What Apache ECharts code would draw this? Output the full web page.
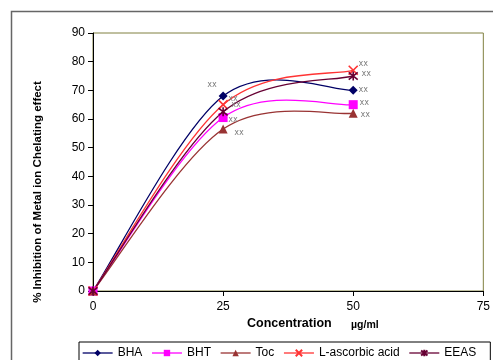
<!DOCTYPE html>
<html><head><meta charset="utf-8">
<script src="https://cdn.jsdelivr.net/npm/echarts@6/dist/echarts.min.js"></script>
<style>html,body{margin:0;padding:0;background:#fff}#c{width:493px;height:360px}</style>
</head><body><div id="c"></div>
<script>
const concentrations = [0, 25, 50];
const seriesNames = ['BHA', 'BHT', 'Toc', 'L-ascorbic acid', 'EEAS'];
const bha = [0, 68, 70];
const bht = [0, 60.5, 65];
const toc = [0, 56.5, 62];
const ascorbic = [0, 65, 77];
const eeas = [0, 62.5, 75];
const xTicks = [0, 25, 50, 75];
const yTicks = [0, 10, 20, 30, 40, 50, 60, 70, 80, 90];
const sigLabel = 'xx';

const colors = ['#000066', '#ff00ff', '#993333', '#ff3333', '#660033'];
const symbols = ['diamond', 'rect', 'triangle', 'path://M1,1L9,9M9,1L1,9', 'path://M5,0L5,10M1,1L9,9M9,1L1,9'];
const symbolSizes = [9, 9, 9, 9, 9];
// label offsets per series at 25 and 50
const labelOffsets = [
  [[-11, -11], [10, 0]],
  [[10, 2], [11, -2]],
  [[16, 4], [12, 2]],
  [[10, -6], [10, -6]],
  [[13, -7], [13, -2]]
];
const allData = [bha, bht, toc, ascorbic, eeas];

// Excel-style smoothed curve drawn through the data points (converted by the axes)
function curveSeries(i) {
  return {
    type: 'custom',
    name: seriesNames[i] + ' curve',
    z: 1,
    silent: true,
    data: [[concentrations[0], allData[i][0]]],
    renderItem: function (params, api) {
      const pts = concentrations.map((c, j) => api.coord([c, allData[i][j]]));
      const n = pts.length;
      let d = 'M' + pts[0][0] + ' ' + pts[0][1];
      for (let k = 0; k < n - 1; k++) {
        const p0 = pts[Math.max(k - 1, 0)], p1 = pts[k], p2 = pts[k + 1], p3 = pts[Math.min(k + 2, n - 1)];
        const c1x = p1[0] + (p2[0] - p0[0]) / 6, c1y = p1[1] + (p2[1] - p0[1]) / 6;
        const c2x = p2[0] - (p3[0] - p1[0]) / 6, c2y = p2[1] - (p3[1] - p1[1]) / 6;
        d += ' C' + c1x + ' ' + c1y + ' ' + c2x + ' ' + c2y + ' ' + p2[0] + ' ' + p2[1];
      }
      return { type: 'path', shape: { pathData: d }, style: { stroke: colors[i], lineWidth: 1.3, fill: null } };
    }
  };
}

const lineSeries = seriesNames.map((name, i) => ({
  name,
  type: 'line',
  z: 3,
  symbol: symbols[i],
  symbolSize: symbolSizes[i],
  lineStyle: { color: colors[i], width: 1.3, opacity: 0 },
  itemStyle: { color: colors[i], borderColor: colors[i], borderWidth: (i >= 3) ? 1.6 : 0 },
  data: concentrations.map((c, j) => {
    const d = { value: [c, allData[i][j]] };
    if (j > 0) {
      d.label = {
        show: true, formatter: sigLabel, position: 'inside',
        offset: labelOffsets[i][j - 1], color: '#777', fontSize: 8, fontFamily: 'DejaVu Sans Mono'
      };
    }
    return d;
  })
}));

const chart = echarts.init(document.getElementById('c'), null, { renderer: 'canvas' });
chart.setOption({
  animation: false,
  backgroundColor: '#fff',
  color: colors,
  grid: { left: 93, right: 6, top: 33, bottom: 69, show: true, borderColor: '#808040', borderWidth: 1, backgroundColor: '#fff' },
  xAxis: {
    type: 'value', min: xTicks[0], max: xTicks[xTicks.length - 1], interval: 25,
    axisLine: { lineStyle: { color: '#000', width: 1 } },
    axisTick: { show: true, length: 5, lineStyle: { color: '#000' } },
    axisLabel: { color: '#000', fontSize: 12, fontFamily: 'Liberation Sans, Arial', margin: 10 },
    splitLine: { show: false }
  },
  yAxis: {
    type: 'value', min: yTicks[0], max: yTicks[yTicks.length - 1], interval: 10,
    axisLine: { show: true, lineStyle: { color: '#000', width: 1 } },
    axisTick: { show: true, length: 5, lineStyle: { color: '#000' } },
    axisLabel: { color: '#000', fontSize: 12, fontFamily: 'Liberation Sans, Arial', margin: 8 },
    splitLine: { show: false }
  },
  legend: {
    data: seriesNames.map((n, i) => ({ name: n, lineStyle: { color: colors[i], width: 1.3, opacity: 1 } })),
    left: 79, top: 342,
    width: 430,
    itemGap: 9,
    itemWidth: 30, itemHeight: 8,
    padding: [5, 14, 20, 3],
    borderColor: '#000', borderWidth: 1,
    backgroundColor: '#fff',
    textStyle: { color: '#000', fontSize: 12, fontFamily: 'Liberation Sans, Arial' }
  },
  graphic: [
    { type: 'rect', shape: { x: 11.5, y: 11.5, width: 490, height: 360 }, style: { fill: 'none', stroke: '#666', lineWidth: 1.5 }, z: -10 },
    { type: 'text', x: 38, y: 192, rotation: Math.PI / 2,
      style: { text: '% Inhibition of Metal ion Chelating effect', font: 'bold 11.5px Liberation Sans, Arial', fill: '#000', align: 'center', verticalAlign: 'middle', textAlign: 'center', textVerticalAlign: 'middle' } },
    { type: 'text', style: { text: 'Concentration', font: 'bold 12.5px Liberation Sans, Arial', fill: '#000', x: 247, y: 317 } },
    { type: 'text', style: { text: 'µg/ml', font: 'bold 10.5px Liberation Sans, Arial', fill: '#000', x: 351, y: 320 } }
  ],
  series: seriesNames.map((_, i) => curveSeries(i)).concat(lineSeries)
});
</script>
</body></html>
